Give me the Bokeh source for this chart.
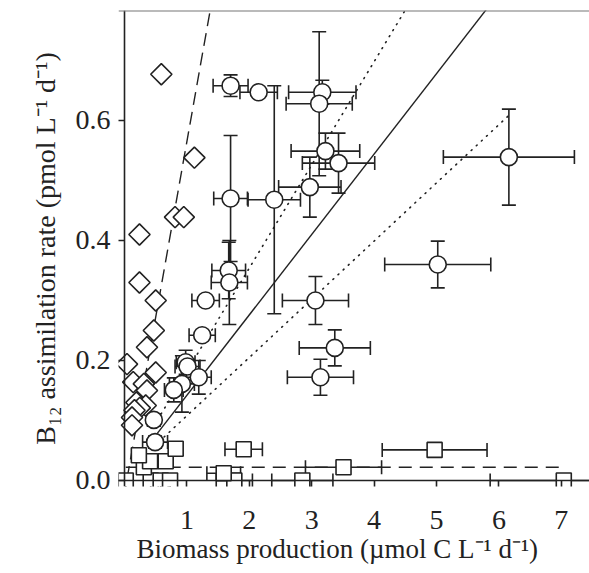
import numpy as np
from bokeh.plotting import figure
from bokeh.models import (ColumnDataSource, Whisker, Span, FixedTicker, Range1d, TeeHead,
                          CustomJSTickFormatter, Title)
from bokeh.embed import file_html
from bokeh.resources import INLINE

# --- bulk community (circles, with x and y error) ---
circ_x = [1.70, 2.15, 2.40, 1.70, 3.17, 3.12, 3.22, 3.43, 2.97, 1.67, 1.68, 1.30, 1.245,
          0.98, 1.01, 1.19, 0.92, 0.79, 0.47, 0.49, 6.16, 5.02, 3.06, 3.37, 3.14]
circ_y = [0.658, 0.647, 0.468, 0.470, 0.647, 0.628, 0.549, 0.529, 0.489, 0.350, 0.330, 0.300, 0.242,
          0.197, 0.190, 0.172, 0.161, 0.151, 0.101, 0.064, 0.539, 0.360, 0.300, 0.221, 0.172]
circ_xerr = [0.28, 0.30, 0.42, 0.27, 0.54, 0.53, 0.55, 0.58, 0.50, 0.27, 0.29, 0.22, 0.21,
             0.15, 0.20, 0.20, 0.20, 0.15, 0.10, 0.20, 1.05, 0.85, 0.53, 0.57, 0.53]
circ_yerr = [0.018, 0.0, 0.19, 0.105, 0.02, 0.12, 0.03, 0.05, 0.05, 0.047, 0.07, 0.0, 0.0,
             0.02, 0.01, 0.028, 0.047, 0.02, 0.01, 0.01, 0.08, 0.039, 0.04, 0.03, 0.03]

# --- diamonds (no error bars) ---
dia_x = [0.59, 1.12, 0.81, 0.95, 0.24, 0.24, 0.50, 0.47, 0.36, 0.04, 0.50, 0.14, 0.31,
         0.36, 0.19, 0.34, 0.245, 0.16, 0.12, 0.12]
dia_y = [0.677, 0.538, 0.439, 0.439, 0.410, 0.330, 0.300, 0.250, 0.222, 0.194, 0.180, 0.164, 0.161,
         0.150, 0.130, 0.125, 0.121, 0.117, 0.105, 0.092]

# --- squares (x error only) ---
sq_x = [0.02, 0.42, 0.58, 0.73, 1.76, 2.85, 7.04, 1.59, 3.51, 0.31, 0.41, 0.66, 0.23, 0.82, 1.91, 4.97]
sq_y = [0.0, 0.0, 0.0, 0.0, 0.0, 0.0, 0.0, 0.012, 0.022, 0.022, 0.032, 0.032, 0.042, 0.053, 0.052, 0.051]
sq_xerr = [0.0, 0.0, 0.0, 0.0, 0.29, 0.49, 1.18, 0.27, 0.61, 0.0, 0.0, 0.0, 0.0, 0.0, 0.30, 0.84]

# --- fitted lines: (slope, intercept) ---
circ_fit = (0.134, 0.008)
circ_band_hi = (0.172, 0.010)
circ_band_lo = (0.097, 0.011)
dia_fit = (0.586, -0.021)
sq_fit = (0.0, 0.022)

x_ticks = [1, 2, 3, 4, 5, 6, 7]
y_ticks = [0.0, 0.2, 0.4, 0.6]
x_title = "Biomass production (\u00b5mol C L\u207b\u00b9 d\u207b\u00b9)"
y_title = "B\u2081\u2082 assimilation rate (pmol L\u207b\u00b9 d\u207b\u00b9)"

# ranges start a little below zero so markers on the axes are not cut
X0, X1 = -0.0962, 7.452
Y0, Y1 = -0.01, 0.7833

FONT = "Liberation Serif"
INK = "#222222"

p = figure(width=589, height=573, output_backend="svg", toolbar_location=None,
           x_range=Range1d(X0, X1), y_range=Range1d(Y0, Y1),
           min_border_left=118, min_border_right=0, min_border_top=10, min_border_bottom=87)
p.outline_line_color = None
p.xgrid.visible = False
p.ygrid.visible = False
p.background_fill_color = "white"
p.border_fill_color = "white"

def line_xy(coef, xs):
    xs = np.array(xs, dtype=float)
    return xs, coef[0] * xs + coef[1]

# regression lines
cx = [min(circ_x), max(circ_x)]
lx, ly = line_xy(circ_fit, cx)
p.line(lx, ly, line_color=INK, line_width=1.4)
for band in (circ_band_hi, circ_band_lo):
    bx, by = line_xy(band, cx)
    p.line(bx, by, line_color=INK, line_width=1.6, line_dash="1 6", line_cap="round")
dx, dy = line_xy(dia_fit, [min(dia_x), 1.5])
p.line(dx, dy, line_color=INK, line_width=1.4, line_dash="13 7")
sx, sy = line_xy(sq_fit, [min(sq_x), max(sq_x)])
p.line(sx, sy, line_color=INK, line_width=1.4, line_dash="13 8")

# axis lines through the origin and the top frame line
p.add_layout(Span(location=0, dimension="width", line_color=INK, line_width=1.6))
p.add_layout(Span(location=0, dimension="height", line_color=INK, line_width=1.6))
p.add_layout(Span(location=Y1, dimension="width", line_color="#777777", line_width=2))

# error bars
circ = ColumnDataSource(dict(
    x=circ_x, y=circ_y,
    xl=[a - e for a, e in zip(circ_x, circ_xerr)], xu=[a + e for a, e in zip(circ_x, circ_xerr)],
    yl=[a - e for a, e in zip(circ_y, circ_yerr)], yu=[a + e for a, e in zip(circ_y, circ_yerr)],
))
sq = ColumnDataSource(dict(
    x=sq_x, y=sq_y,
    xl=[a - e for a, e in zip(sq_x, sq_xerr)], xu=[a + e for a, e in zip(sq_x, sq_xerr)],
))

def tee():
    return TeeHead(size=14, line_color=INK, line_width=1.6)

p.add_layout(Whisker(source=circ, base="x", lower="yl", upper="yu", dimension="height",
                     line_color=INK, line_width=1.6, upper_head=tee(), lower_head=tee()))
p.add_layout(Whisker(source=circ, base="y", lower="xl", upper="xu", dimension="width",
                     line_color=INK, line_width=1.6, upper_head=tee(), lower_head=tee()))
p.add_layout(Whisker(source=sq, base="y", lower="xl", upper="xu", dimension="width",
                     line_color=INK, line_width=1.6, upper_head=tee(), lower_head=tee()))

# markers
p.scatter(dia_x, dia_y, marker="square", size=15, angle=np.pi / 4,
          fill_color="white", line_color=INK, line_width=1.6)
p.scatter("x", "y", source=sq, marker="square", size=15,
          fill_color="white", line_color=INK, line_width=1.6)
p.scatter("x", "y", source=circ, marker="circle", size=17,
          fill_color="white", line_color=INK, line_width=1.6)

# axes
xa = p.xaxis[0]
ya = p.yaxis[0]
xa.ticker = FixedTicker(ticks=x_ticks)
ya.ticker = FixedTicker(ticks=y_ticks)
ya.formatter = CustomJSTickFormatter(code="return tick.toFixed(1);")
ya.axis_label = y_title
for ax in (xa, ya):
    ax.axis_line_color = None
    ax.major_tick_line_color = INK
    ax.major_tick_line_width = 1.6
    ax.major_tick_out = 0
    ax.major_tick_in = 6
    ax.minor_tick_line_color = None
    ax.major_label_text_font = FONT
    ax.major_label_text_font_size = "28px"
    ax.major_label_text_color = INK
    ax.axis_label_text_font = FONT
    ax.axis_label_text_font_size = "28px"
    ax.axis_label_text_font_style = "normal"
    ax.axis_label_text_color = INK
xa.major_label_standoff = 24
ya.major_label_standoff = 8
ya.axis_label_standoff = 12

# x-axis title, set slightly left of the frame centre
p.add_layout(Title(text=x_title, align="left", offset=18, standoff=1,
                   text_font=FONT, text_font_size="27px", text_font_style="normal",
                   text_color=INK), "below")

open("out.html", "w").write(file_html(p, INLINE))
